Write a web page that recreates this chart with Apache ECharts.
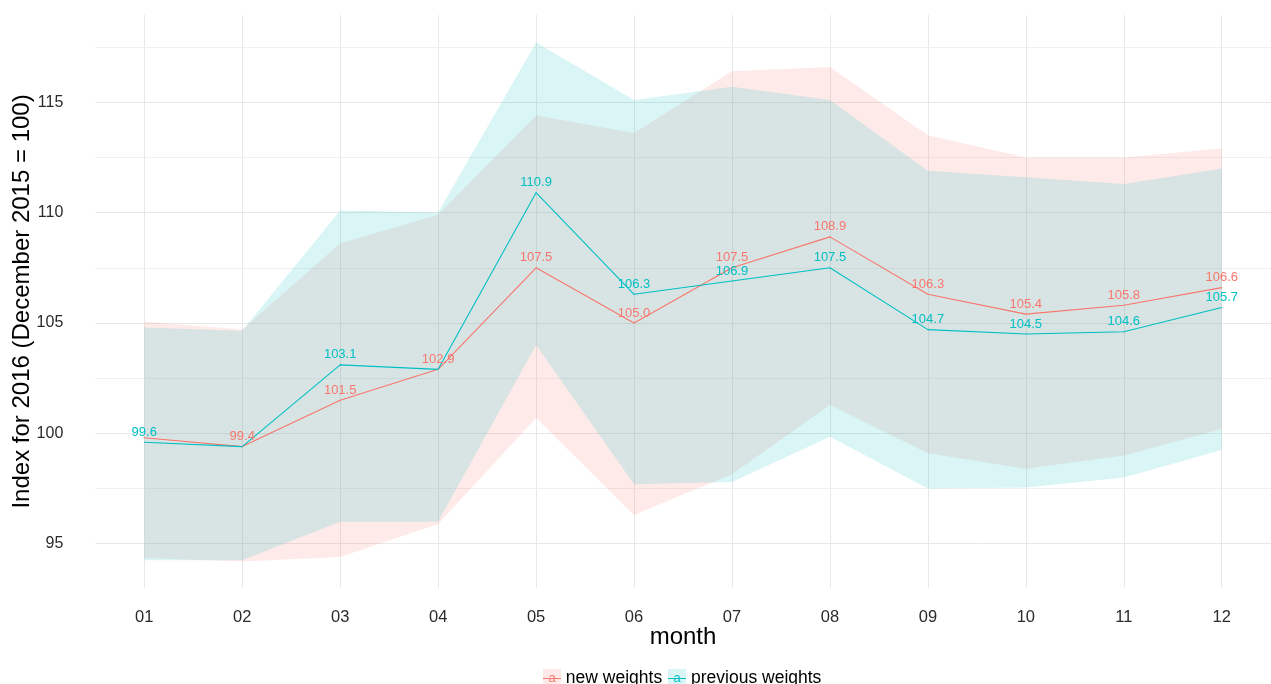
<!DOCTYPE html>
<html>
<head>
<meta charset="utf-8">
<title>Index for 2016</title>
<script src="https://cdn.jsdelivr.net/npm/echarts@6/dist/echarts.min.js"></script>
<style>
  html, body { margin: 0; padding: 0; background: #ffffff; }
  #chart { width: 1271px; height: 684px; }
</style>
</head>
<body>
<div id="chart"></div>
<script>
// Months of 2016
const months = ['01', '02', '03', '04', '05', '06', '07', '08', '09', '10', '11', '12'];

// Index values (December 2015 = 100)
const newWeights = [99.8, 99.4, 101.5, 102.9, 107.5, 105.0, 107.5, 108.9, 106.3, 105.4, 105.8, 106.6];
const previousWeights = [99.6, 99.4, 103.1, 102.9, 110.9, 106.3, 106.9, 107.5, 104.7, 104.5, 104.6, 105.7];

// Interval bounds around each index
const newLower = [94.35, 94.2, 94.4, 95.9, 100.7, 96.3, 98.15, 101.3, 99.1, 98.4, 99.0, 100.2];
const newUpper = [105.05, 104.7, 108.6, 109.9, 114.4, 113.6, 116.4, 116.6, 113.5, 112.5, 112.5, 112.9];
const previousLower = [94.25, 94.25, 96.0, 96.0, 104.0, 97.7, 97.8, 99.85, 97.5, 97.55, 98.0, 99.25];
const previousUpper = [104.8, 104.65, 110.1, 110.0, 117.7, 115.1, 115.7, 115.1, 111.9, 111.6, 111.3, 112.0];

// Value labels left out where they would collide (month indexes)
const newLabelsOmitted = [0];
const previousLabelsOmitted = [1, 3];

// Axis ticks and grid
const yTicks = [95, 100, 105, 110, 115];
const yMinorTicks = [97.5, 102.5, 107.5, 112.5, 117.5];

const RED = '#F8766D';
const CYAN = '#00BFC4';
const RED_FILL = 'rgba(248,118,109,0.15)';
const CYAN_FILL = 'rgba(0,191,196,0.15)';
const FONT = '"Liberation Sans", Arial, Helvetica, sans-serif';

function ribbon(name, lower, upper, fill) {
  return {
    type: 'custom',
    name: name,
    silent: true,
    z: 1,
    data: [[0, upper[0]]],
    renderItem: function (params, api) {
      const pts = [];
      for (let i = 0; i < months.length; i++) pts.push(api.coord([i, upper[i]]));
      for (let i = months.length - 1; i >= 0; i--) pts.push(api.coord([i, lower[i]]));
      return { type: 'polygon', shape: { points: pts }, style: { fill: fill } };
    }
  };
}

function indexLine(name, values, color, omitted) {
  return {
    type: 'line',
    name: name,
    data: values,
    symbol: 'circle',
    symbolSize: 1,
    showSymbol: true,
    z: 3,
    lineStyle: { color: color, width: 1.1 },
    itemStyle: { color: color },
    label: {
      show: true,
      position: 'top',
      distance: 3,
      color: color,
      fontSize: 13,
      fontFamily: FONT,
      formatter: function (p) {
        return omitted.indexOf(p.dataIndex) >= 0 ? '' : Number(p.value).toFixed(1);
      }
    },
    labelLayout: { hideOverlap: false },
    emphasis: { disabled: true }
  };
}

// Legend key: light box with a line through it
function legendKey(fill, stroke) {
  const c = document.createElement('canvas');
  c.width = 18; c.height = 18;
  const g = c.getContext('2d');
  g.fillStyle = fill;
  g.fillRect(0, 0, 18, 18);
  g.strokeStyle = stroke;
  g.lineWidth = 1;
  g.beginPath();
  g.moveTo(0, 9.5);
  g.lineTo(18, 9.5);
  g.stroke();
  return c;
}

const chart = echarts.init(document.getElementById('chart'), null, { renderer: 'canvas' });

const gridLines = []
  .concat(yMinorTicks.map(v => ({ yAxis: v, lineStyle: { color: '#F0F0F0', width: 1, type: 'solid' } })))
  .concat(yTicks.map(v => ({ yAxis: v, lineStyle: { color: '#E8E8E8', width: 1, type: 'solid' } })));

chart.setOption({
  animation: false,
  backgroundColor: '#ffffff',
  textStyle: { fontFamily: FONT },
  grid: { left: 95.3, right: 0.3, top: 15, bottom: 96.1, outerBoundsMode: 'none', containLabel: false },
  xAxis: {
    type: 'category',
    data: months,
    boundaryGap: true,
    axisLine: { show: false },
    axisTick: { show: false },
    axisLabel: { margin: 21, fontSize: 16.5, color: '#2b2b2b', fontFamily: FONT, interval: 0 },
    splitLine: { show: true, interval: 0, alignWithLabel: true, lineStyle: { color: '#E8E8E8', width: 1 } },
    name: 'month',
    nameLocation: 'middle',
    nameGap: 37,
    nameMoveOverlap: false,
    nameTextStyle: { fontSize: 24, color: '#000000', fontFamily: FONT }
  },
  yAxis: {
    type: 'value',
    min: 93,
    max: 118.95,
    interval: 1,
    axisLine: { show: false },
    axisTick: { show: false },
    splitLine: { show: false },
    axisLabel: {
      margin: 32,
      fontSize: 16,
      color: '#2b2b2b',
      fontFamily: FONT,
      formatter: function (v) { return yTicks.indexOf(v) >= 0 ? String(v) : ''; }
    },
    name: 'Index for 2016 (December 2015 = 100)',
    nameLocation: 'middle',
    nameGap: 61,
    nameMoveOverlap: false,
    nameTextStyle: { fontSize: 24, color: '#000000', fontFamily: FONT }
  },
  legend: {
    left: 532,
    top: 664,
    orient: 'horizontal',
    itemWidth: 1,
    itemHeight: 18,
    itemGap: 0,
    selectedMode: false,
    data: [
      { name: 'new weights', icon: 'none' },
      { name: 'previous weights', icon: 'none' }
    ],
    formatter: function (name) {
      return (name === 'new weights' ? '{kn|a}' : '{kp|a}') + ' ' + name;
    },
    textStyle: {
      fontSize: 17.5,
      color: '#000000',
      fontFamily: FONT,
      rich: {
        kn: { backgroundColor: { image: legendKey(RED_FILL, RED) }, width: 18, height: 18, lineHeight: 18, align: 'center', color: RED, fontSize: 13, fontFamily: FONT },
        kp: { backgroundColor: { image: legendKey(CYAN_FILL, CYAN) }, width: 18, height: 18, lineHeight: 18, align: 'center', color: CYAN, fontSize: 13, fontFamily: FONT }
      }
    }
  },
  series: [
    {
      type: 'line',
      name: 'grid',
      data: [],
      silent: true,
      z: 0,
      markLine: {
        silent: true,
        z: 0,
        symbol: ['none', 'none'],
        label: { show: false },
        emphasis: { disabled: true },
        animation: false,
        data: gridLines
      }
    },
    ribbon('new weights interval', newLower, newUpper, RED_FILL),
    ribbon('previous weights interval', previousLower, previousUpper, CYAN_FILL),
    indexLine('new weights', newWeights, RED, newLabelsOmitted),
    indexLine('previous weights', previousWeights, CYAN, previousLabelsOmitted)
  ]
});
</script>
</body>
</html>
